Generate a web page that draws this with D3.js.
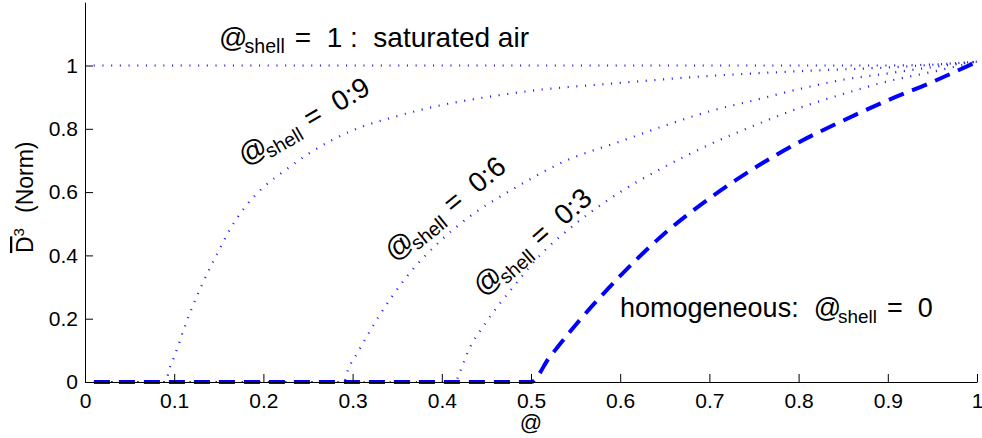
<!DOCTYPE html>
<html>
<head>
<meta charset="utf-8">
<script src="https://cdn.jsdelivr.net/npm/d3@7"></script>
<style>
  html, body { margin: 0; padding: 0; background: #fff; }
  svg { display: block; }
  text { font-family: "Liberation Sans", Arial, sans-serif; fill: #000; }
</style>
</head>
<body>
<svg id="chart" width="982" height="438"></svg>
<script>
// ---- data ----
const xTicks = [0, 0.1, 0.2, 0.3, 0.4, 0.5, 0.6, 0.7, 0.8, 0.9, 1];
const xTickLabels = ["0", "0.1", "0.2", "0.3", "0.4", "0.5", "0.6", "0.7", "0.8", "0.9", "1"];
const yTicks = [0, 0.2, 0.4, 0.6, 0.8, 1];
const yTickLabels = ["0", "0.2", "0.4", "0.6", "0.8", "1"];

// phi_shell = 1 (saturated air)
const xSat = [0, 0.9, 0.95, 1.0];
const ySat = [1, 1, 1.003, 1.012];
// phi_shell = 0.9
const x09 = [0.01, 0.09, 0.095, 0.1, 0.11, 0.12, 0.13, 0.14, 0.15, 0.16, 0.18, 0.2, 0.225, 0.25, 0.3, 0.35, 0.4, 0.45, 0.5, 0.6, 0.7, 0.8, 0.9, 1.0];
const y09 = [0, 0, 0.045, 0.08, 0.16, 0.235, 0.3, 0.36, 0.415, 0.47, 0.555, 0.615, 0.67, 0.72, 0.795, 0.84, 0.875, 0.9, 0.92, 0.945, 0.967, 0.982, 0.994, 1.012];
// phi_shell = 0.6
const x06 = [0.01, 0.29, 0.295, 0.305, 0.33, 0.36, 0.4, 0.43, 0.48, 0.54, 0.6, 0.65, 0.7, 0.75, 0.8, 0.85, 0.9, 0.95, 1.0];
const y06 = [0, 0, 0.04, 0.09, 0.21, 0.33, 0.45, 0.52, 0.61, 0.7, 0.76, 0.81, 0.855, 0.89, 0.925, 0.955, 0.975, 0.995, 1.012];
// phi_shell = 0.3
const x03 = [0.01, 0.415, 0.42, 0.43, 0.45, 0.48, 0.51, 0.55, 0.6, 0.65, 0.7, 0.75, 0.8, 0.85, 0.9, 0.95, 1.0];
const y03 = [0, 0, 0.03, 0.1, 0.19, 0.3, 0.4, 0.5, 0.6, 0.68, 0.75, 0.81, 0.865, 0.91, 0.95, 0.98, 1.012];
// homogeneous, phi_shell = 0
const xHom = [0.01, 0.5, 0.52, 0.55, 0.6, 0.65, 0.7, 0.75, 0.8, 0.85, 0.9, 0.95, 1.0];
const yHom = [0, 0, 0.075, 0.18, 0.335, 0.47, 0.58, 0.675, 0.757, 0.826, 0.89, 0.948, 1.012];

const NB = "\u00a0";
const annotationMain = ["@", "@", "@", "@", "homogeneous:" + NB + NB + "@"];
const annotationRest = ["=" + NB + NB + "1" + NB + ":" + NB + NB + "saturated air",
                        "=" + NB + NB + "0:9", "=" + NB + NB + "0:6", "=" + NB + NB + "0:3",
                        "=" + NB + NB + "0"];

// ---- layout ----
const svg = d3.select("#chart");
const x = d3.scaleLinear().domain([0, 1]).range([85, 977]);
const y = d3.scaleLinear().domain([0, 1.2]).range([382, 2.2]);

const line = d3.line().x(d => x(d[0])).y(d => y(d[1])).curve(d3.curveMonotoneX);
const zipXY = (xs, ys) => xs.map((v, i) => [v, ys[i]]);

const dotted = [ [xSat, ySat], [x09, y09], [x06, y06], [x03, y03] ];
const gLines = svg.append("g");
dotted.forEach(([xs, ys]) => {
  gLines.append("path")
    .attr("d", line(zipXY(xs, ys)))
    .attr("fill", "none")
    .attr("stroke", "#1f1fff")
    .attr("stroke-width", 2.2)
    .attr("stroke-dasharray", "1.1 7.6");
});
gLines.append("path")
  .attr("d", line(zipXY(xHom, yHom)))
  .attr("fill", "none")
  .attr("stroke", "#0000ff")
  .attr("stroke-width", 4)
  .attr("stroke-dasharray", "16 9");

// ---- axes ----
const xAxis = d3.axisBottom(x).tickValues(xTicks)
  .tickFormat((d, i) => xTickLabels[i]).tickSize(-8).tickPadding(11).tickSizeOuter(0);
const yAxis = d3.axisLeft(y).tickValues(yTicks)
  .tickFormat((d, i) => yTickLabels[i]).tickSize(-8).tickPadding(7).tickSizeOuter(0);

const gx = svg.append("g").attr("transform", "translate(0,382)").call(xAxis);
const gy = svg.append("g").attr("transform", "translate(85,0)").call(yAxis);
[gx, gy].forEach(g => {
  g.selectAll("text").style("font-size", "21px").style("font-family", "'Liberation Sans', Arial, sans-serif").attr("fill", "#000");
  g.selectAll("line").attr("stroke", "#000");
  g.select(".domain").attr("stroke", "#000");
});

// axis labels
svg.append("text").attr("x", 531).attr("y", 430).attr("text-anchor", "middle")
  .style("font-size", "22px").text("@");

const yl = svg.append("text").attr("transform", "translate(33,253) rotate(-90)")
  .style("font-size", "23px");
yl.append("tspan").text("D").style("text-decoration", "overline");
yl.append("tspan").attr("dy", -9).style("font-size", "15px").text("3");
yl.append("tspan").attr("dy", 9).attr("dx", 15).text("(Norm)");

// ---- annotations ----
function annot(i, tx, ty, rot, size) {
  const t = svg.append("text")
    .attr("transform", `translate(${tx},${ty}) rotate(${rot})`)
    .style("font-size", size + "px");
  t.append("tspan").text(annotationMain[i]);
  t.append("tspan").attr("dx", -3).attr("dy", 6).style("font-size", (size * 0.7) + "px").text("shell");
  t.append("tspan").attr("dx", 10).attr("dy", -6).text(annotationRest[i]);
}
annot(0, 219, 47, 0, 28);
annot(1, 245, 166, -30, 28);
annot(2, 394, 262, -39, 28);
annot(3, 483, 297, -41, 28);
annot(4, 620, 317, 0, 27);
</script>
</body>
</html>
